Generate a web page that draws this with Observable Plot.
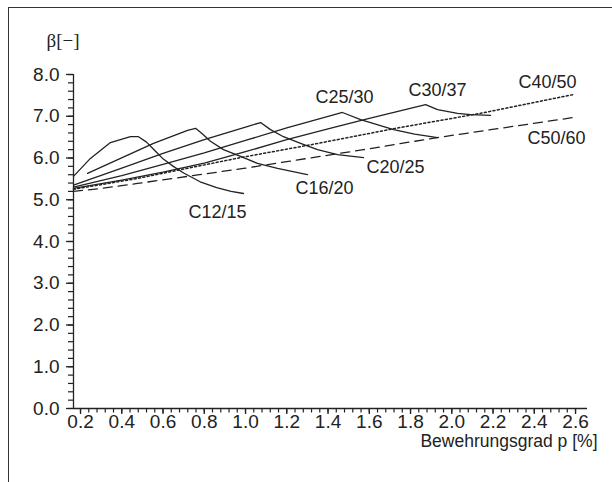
<!DOCTYPE html>
<html>
<head>
<meta charset="utf-8">
<script src="https://cdn.jsdelivr.net/npm/d3@7"></script>
<script src="https://cdn.jsdelivr.net/npm/@observablehq/plot@0.6"></script>
<style>
  html, body { margin: 0; padding: 0; background: #fff; overflow: hidden; }
  #wrap { position: relative; width: 612px; height: 482px; }
  #border { position: absolute; left: 8px; top: 7px; width: 700px; height: 600px; border: 1.3px solid #333; box-sizing: border-box; pointer-events: none; }
</style>
</head>
<body>
<div id="wrap"><div id="border"></div></div>
<script>
// ---- data (p in %, beta in -) ----
const seriesNames = ["C12/15", "C16/20", "C20/25", "C25/30", "C30/37", "C40/50", "C50/60"];
const lineStyle = ["solid", "solid", "solid", "solid", "solid", "dotted", "dashed"];

const c12_15 = [[0.166,5.56],[0.248,5.99],[0.345,6.37],[0.442,6.51],[0.481,6.51],[0.52,6.38],[0.56,6.18],[0.60,5.98],[0.65,5.80],[0.70,5.64],[0.78,5.43],[0.86,5.29],[0.93,5.20],[0.99,5.15]];
const c16_20 = [[0.234,5.63],[0.394,5.99],[0.554,6.35],[0.719,6.66],[0.758,6.71],[0.79,6.58],[0.830,6.40],[0.893,6.20],[0.976,6.04],[1.058,5.87],[1.155,5.75],[1.30,5.60]];
const c20_25 = [[0.166,5.35],[0.4,5.76],[0.6,6.11],[0.8,6.44],[1.0,6.74],[1.073,6.85],[1.121,6.68],[1.184,6.51],[1.267,6.35],[1.349,6.20],[1.446,6.08],[1.572,6.01]];
const c25_30 = [[0.166,5.30],[0.4,5.58],[0.6,5.85],[0.8,6.12],[1.0,6.42],[1.2,6.72],[1.47,7.09],[1.558,6.92],[1.718,6.68],[1.82,6.57],[1.931,6.49]];
const c30_37 = [[0.166,5.27],[0.4,5.47],[0.6,5.66],[0.8,5.88],[1.0,6.15],[1.2,6.44],[1.4,6.70],[1.6,6.95],[1.873,7.28],[1.931,7.16],[2.028,7.07],[2.091,7.04],[2.188,7.02]];
const c40_50 = [[0.166,5.25],[0.476,5.51],[0.685,5.72],[0.976,6.01],[1.33,6.33],[1.727,6.71],[2.139,7.07],[2.59,7.52]];
const c50_60 = [[0.166,5.20],[0.297,5.27],[0.476,5.39],[0.99,5.75],[1.30,5.99],[1.572,6.20],[1.931,6.49],[2.59,6.97]];
const seriesValues = [c12_15, c16_20, c20_25, c25_30, c30_37, c40_50, c50_60];

// label anchor points (data units)
const labelP    = [0.864, 1.383, 1.727, 1.48, 1.931, 2.464, 2.508];
const labelBeta = [4.69, 5.27, 5.77, 7.45, 7.62, 7.81, 6.47];

const xMajorTicks = [0.2,0.4,0.6,0.8,1.0,1.2,1.4,1.6,1.8,2.0,2.2,2.4,2.6];
const xMinorTicks = d3.range(0, 61).map(i => +(0.2 + i * 0.04).toFixed(2));
const yMajorTicks = [0,1,2,3,4,5,6,7,8];
const yMinorTicks = d3.range(0, 41).map(i => +(i * 0.2).toFixed(1));

const xTitle = "Bewehrungsgrad p [%]";
const yTitle = "β[−]";

// ---- build tables ----
const rows = seriesNames.flatMap((name, i) =>
  seriesValues[i].map(([p, beta]) => ({series: name, style: lineStyle[i], p, beta})));
const labels = seriesNames.map((name, i) => ({name, p: labelP[i], beta: labelBeta[i]}));

const ink = "#222";
const xDomain = [0.166, 2.658];

const chart = Plot.plot({
  width: 612,
  height: 482,
  marginLeft: 73,
  marginRight: 25,
  marginTop: 74,
  marginBottom: 74,
  style: {fontFamily: "'Liberation Sans', Arial, sans-serif", fontSize: "19px", color: ink, background: "white"},
  x: {domain: xDomain, label: null},
  y: {domain: [0, 8], label: null},
  marks: [
    Plot.ruleX([xDomain[0]], {stroke: ink, strokeWidth: 1.3}),
    Plot.ruleY([0], {stroke: ink, strokeWidth: 1.3}),
    // minor ticks
    Plot.ruleY(yMinorTicks, {y: d => d, x1: xDomain[0], x2: xDomain[0], insetLeft: -5, stroke: ink, strokeWidth: 1.2}),
    Plot.ruleX(xMinorTicks, {x: d => d, y1: 0, y2: 0, insetTop: 4.5, stroke: ink, strokeWidth: 1.2}),
    // major ticks + labels
    Plot.axisY(yMajorTicks, {tickSize: 7, tickPadding: 7, tickFormat: d => d.toFixed(1), stroke: ink, strokeWidth: 1.3, fill: ink, fontSize: 19, label: null}),
    Plot.axisX(xMajorTicks, {tickSize: 6, tickPadding: 0, tickFormat: d => d.toFixed(1), stroke: ink, strokeWidth: 1.3, fill: ink, fontSize: 19, label: null}),
    Plot.line(rows, {filter: d => d.style === "solid", x: "p", y: "beta", z: "series", stroke: ink, strokeWidth: 1.3}),
    Plot.line(rows, {filter: d => d.style === "dotted", x: "p", y: "beta", z: "series", stroke: ink, strokeWidth: 1.5, strokeDasharray: "2,2.4"}),
    Plot.line(rows, {filter: d => d.style === "dashed", x: "p", y: "beta", z: "series", stroke: ink, strokeWidth: 1.3, strokeDasharray: "9,6"}),
    Plot.text(labels, {x: "p", y: "beta", text: "name", fill: ink, fontSize: 18, textAnchor: "middle", lineAnchor: "middle"}),
    Plot.text([yTitle], {frameAnchor: "top-left", dx: -27, dy: -34, fill: ink, fontSize: 19, textAnchor: "start", lineAnchor: "middle", fontFamily: "'Liberation Serif', 'DejaVu Serif', serif"}),
    Plot.text([xTitle], {frameAnchor: "bottom-right", dx: 10, dy: 33, fill: ink, fontSize: 17.5, textAnchor: "end", lineAnchor: "middle"})
  ]
});
document.getElementById("wrap").prepend(chart);
</script>
</body>
</html>
